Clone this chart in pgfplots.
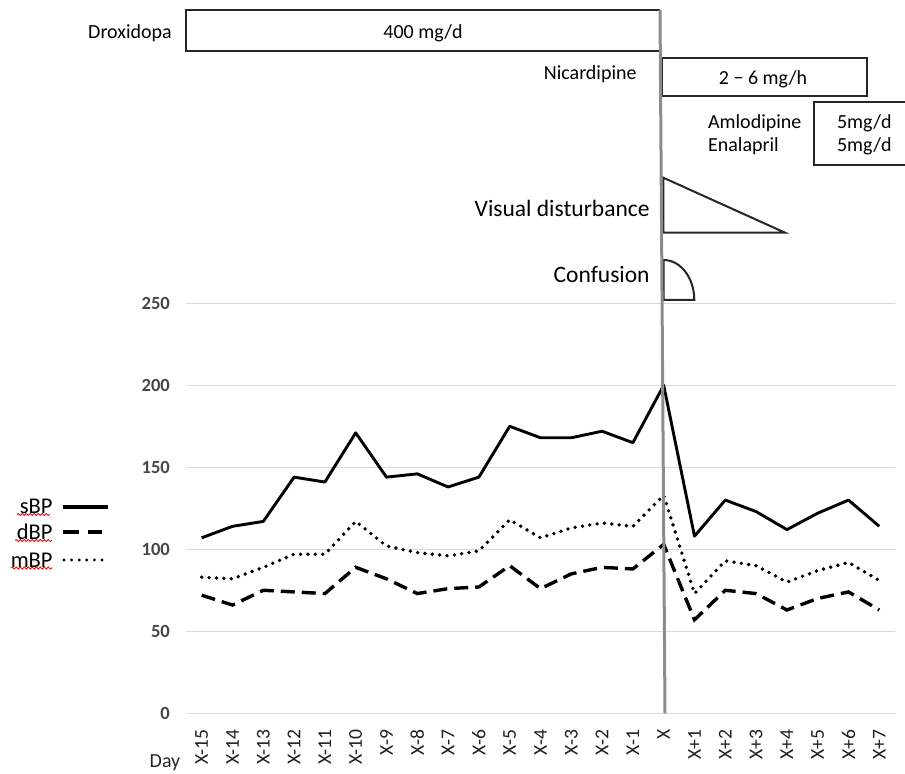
\documentclass[border=0pt]{standalone}
\usepackage{fontspec}
\setmainfont{Carlito}
\usepackage{pgfplots}
\pgfplotsset{compat=1.18}
\usetikzlibrary{decorations.pathmorphing}
\definecolor{ticklab}{HTML}{474747}
\definecolor{xticklab}{HTML}{1F1F1F}
\definecolor{gridc}{HTML}{D9D9D9}
\definecolor{vline}{HTML}{8C8C8C}
\definecolor{boxc}{HTML}{262626}
\begin{document}
\begin{tikzpicture}
\begin{axis}[
  scale only axis, width=354.2pt, height=205pt,
  xmin=-0.5, xmax=22.5, ymin=0, ymax=250,
  ytick={0,50,...,250},
  xtick={0,...,22},
  xticklabels={X-15,X-14,X-13,X-12,X-11,X-10,X-9,X-8,X-7,X-6,X-5,X-4,X-3,X-2,X-1,X,X+1,X+2,X+3,X+4,X+5,X+6,X+7},
  axis line style={draw=none},
  major tick length=0pt,
  ymajorgrids, grid style={gridc, line width=0.75pt},
  tick label style={font=\fontsize{9.3}{11}\selectfont, text=ticklab},
  /pgf/number format/assume math mode=true,
  yticklabel style={anchor=east, inner sep=0pt, xshift=-8pt, font=\fontsize{9.3}{11}\selectfont\bfseries},
  xticklabel style={rotate=90, anchor=east, inner sep=0pt, text=xticklab, font=\fontsize{9.8}{11}\selectfont},
  xticklabel shift=8pt,
  clip=false,
]
\addplot[black, line width=1.45pt, line join=round] coordinates {
(0,107) (1,114) (2,117) (3,144) (4,141) (5,171) (6,144) (7,146) (8,138) (9,144) (10,175) (11,168) (12,168) (13,172) (14,165) (15,200) (16,108) (17,130) (18,123) (19,112) (20,122) (21,130) (22,114)};
\addplot[black, line width=1.7pt, dash pattern=on 7pt off 3.5pt] coordinates {
(0,72) (1,66) (2,75) (3,74) (4,73) (5,89) (6,82) (7,73) (8,76) (9,77) (10,90) (11,76) (12,85) (13,89) (14,88) (15,103) (16,57) (17,75) (18,73) (19,63) (20,70) (21,74) (22,63)};
\addplot[black, line width=1.9pt, line cap=round, dash pattern=on 0pt off 3.7pt] coordinates {
(0,83) (1,82) (2,89) (3,97) (4,97) (5,117) (6,102) (7,98) (8,96) (9,99) (10,118) (11,107) (12,113) (13,116) (14,114) (15,133) (16,73) (17,93) (18,90) (19,80) (20,87) (21,92) (22,81)};
\end{axis}
\begin{scope}[x=0.5pt, y=-0.5pt, shift={(-186.3,-713.3)}]
  % boxes
  \draw[boxc, line width=1pt] (660,10) -- (186,10) -- (186,50.7) -- (660.2,50.7);
  \draw[boxc, line width=1pt] (661.7,58.3) rectangle (866.7,96);
  \draw[boxc, line width=1pt] (915,101.7) -- (814,101.7) -- (814,165) -- (915,165);
  \draw[boxc, line width=1pt, line join=miter] (663.3,177.7) -- (785,232.7) -- (663.3,232.7) -- cycle;
  \draw[boxc, line width=1pt] (663.6,300) -- (663.6,260) .. controls (680.6,260) and (694.3,277.9) .. (694.3,300) -- cycle;
  % vertical line
  \draw[vline, line width=1.5pt] (660,10) -- (665,713.3);
  % texts
  \node[font=\fontsize{10}{12}\selectfont] at (130,33) {Droxidopa};
  \node[font=\fontsize{10}{12}\selectfont] at (423,33) {400 mg/d};
  \node[anchor=east, inner sep=0pt, font=\fontsize{10}{12}\selectfont] at (637,74.5) {Nicardipine};
  \node[font=\fontsize{10}{12}\selectfont] at (763,79.5) {2 − 6 mg/h};
  \node[anchor=west, inner sep=0pt, font=\fontsize{10}{12}\selectfont] at (707.7,122.8) {Amlodipine};
  \node[anchor=west, inner sep=0pt, font=\fontsize{10}{12}\selectfont] at (707.7,146.2) {Enalapril};
  \node[anchor=west, inner sep=0pt, font=\fontsize{10}{12}\selectfont] at (836.7,122.8) {5mg/d};
  \node[anchor=west, inner sep=0pt, font=\fontsize{10}{12}\selectfont] at (836.7,146.2) {5mg/d};
  \node[anchor=east, inner sep=0pt, font=\fontsize{11.75}{14}\selectfont] at (650,208.8) {Visual disturbance};
  \node[anchor=east, inner sep=0pt, font=\fontsize{11.75}{14}\selectfont] at (650,274.8) {Confusion};
  \node[font=\fontsize{10}{12}\selectfont, text=boxc] at (165,763) {Day};
  % legend
  \node[anchor=east, inner sep=0pt, font=\fontsize{11.25}{13}\selectfont] at (53,506.7) {sBP};
  \node[anchor=east, inner sep=0pt, font=\fontsize{11.25}{13}\selectfont] at (53,532) {dBP};
  \node[anchor=east, inner sep=0pt, font=\fontsize{11.25}{13}\selectfont] at (53,560) {mBP};
  \draw[black, line width=2pt] (63,507) -- (108,507);
  \draw[black, line width=2pt] (63,532) -- (79,532);
  \draw[black, line width=2pt] (88,532) -- (102,532);
  \draw[black, line width=1.6pt, line cap=round, dash pattern=on 0pt off 3.8pt] (64,560) -- (102.5,560);
  \draw[red, line width=0.4pt, decorate, decoration={snake, amplitude=0.5pt, segment length=2pt}] (17,514.5) -- (50,514.5);
  \draw[red, line width=0.4pt, decorate, decoration={snake, amplitude=0.5pt, segment length=2pt}] (15,540.5) -- (52,540.5);
  \draw[red, line width=0.4pt, decorate, decoration={snake, amplitude=0.5pt, segment length=2pt}] (11,568) -- (53,568);
  \pgfresetboundingbox
  \path[use as bounding box] (0,0) rectangle (905,774);
\end{scope}
\end{tikzpicture}
\end{document}
